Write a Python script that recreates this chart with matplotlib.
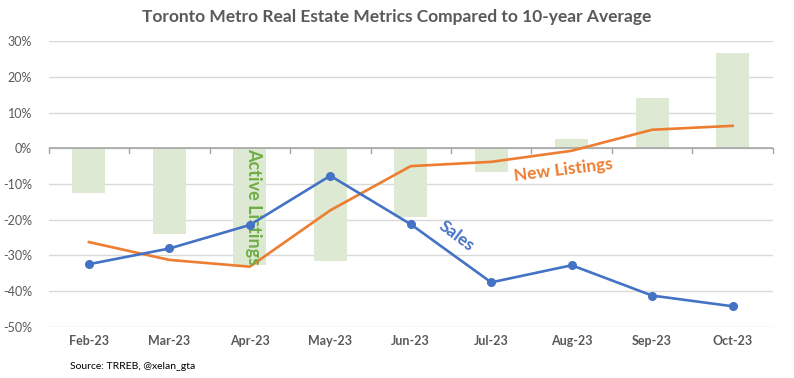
import matplotlib
matplotlib.use("Agg")
import matplotlib.pyplot as plt
import numpy as np
from matplotlib.ticker import FuncFormatter

months = ["Feb-23", "Mar-23", "Apr-23", "May-23", "Jun-23", "Jul-23", "Aug-23", "Sep-23", "Oct-23"]
active_listings = [-12.4, -23.9, -32.6, -31.6, -19.2, -6.6, 2.6, 14.1, 26.7]
sales = [-32.5, -28.1, -21.5, -7.7, -21.3, -37.6, -32.8, -41.3, -44.3]
new_listings = [-26.3, -31.3, -33.2, -17.4, -5.0, -3.8, -0.7, 5.2, 6.3]
yticks = [30, 20, 10, 0, -10, -20, -30, -40, -50]

plt.rcParams['font.family'] = ['Lato', 'DejaVu Sans']

fig = plt.figure(figsize=(7.94, 3.78), dpi=100)
ax = fig.add_axes([0.0613, 0.136, 0.912, 0.7547])

x = np.arange(len(months))
ax.bar(x, active_listings, width=0.41, color="#DDE9D3", zorder=2)
ax.plot(x, new_listings, color="#ED7D31", lw=1.9, zorder=3)
ax.plot(x, sales, color="#4472C4", lw=1.9, marker="o", ms=5.5, zorder=4)

ax.set_xlim(-0.5, len(months) - 0.5)
ax.set_ylim(-50, 30)
ax.set_yticks(yticks)
ax.yaxis.set_major_formatter(FuncFormatter(lambda v, p: f"{int(round(v))}%"))
ax.grid(axis="y", color="#D9D9D9", lw=1, zorder=0)
ax.tick_params(axis="y", length=0, labelsize=9, labelcolor="#595959", pad=12)

# x axis at zero
ax.axhline(0, color="#A6A6A6", lw=1.2, zorder=2.5)
for b in np.arange(-0.5, len(months), 1.0):
    ax.plot([b, b], [0, -1.3], color="#A6A6A6", lw=1, zorder=2.5, clip_on=False)

ax.set_xticks(x)
ax.set_xticklabels(months, fontweight="bold")
ax.tick_params(axis="x", length=0, labelsize=9, labelcolor="#595959", pad=6)

for s in ax.spines.values():
    s.set_visible(False)

fig.text(0.5, 0.955, "Toronto Metro Real Estate Metrics Compared to 10-year Average",
         ha="center", va="center", fontsize=12.5, fontweight="bold", color="#595959")
fig.text(0.088, 0.03, "Source: TRREB, @xelan_gta", fontsize=7.5, color="#000000", va="center")

ax.text(2.05, -16.3, "Active Listings", rotation=-90, ha="center", va="center",
        fontsize=13, color="#70AD47", fontweight="bold")
ax.text(5.9, -6.0, "New Listings", rotation=7, ha="center", va="center",
        fontsize=12.5, color="#ED7D31", fontweight="bold")
ax.text(4.57, -24.5, "Sales", rotation=-37, ha="center", va="center",
        fontsize=12.5, color="#4472C4", fontweight="bold")

fig.savefig("out.png", dpi=100)
